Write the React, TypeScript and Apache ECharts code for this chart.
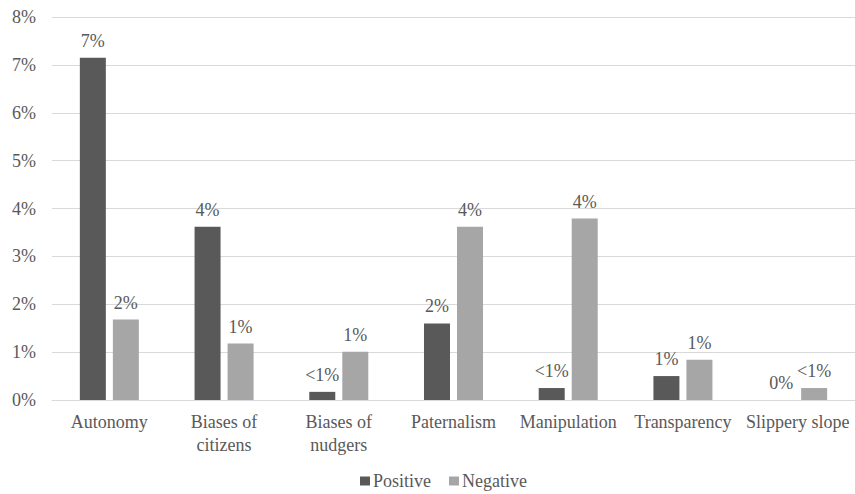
import React, { useEffect, useRef } from "react";
import * as echarts from "echarts";

const categories = [
  "Autonomy",
  "Biases of\ncitizens",
  "Biases of\nnudgers",
  "Paternalism",
  "Manipulation",
  "Transparency",
  "Slippery slope",
];
const positive = [7.15, 3.62, 0.17, 1.6, 0.25, 0.5, 0];
const negative = [1.68, 1.18, 1.01, 3.62, 3.79, 0.84, 0.25];
const yTicks = [0, 1, 2, 3, 4, 5, 6, 7, 8];

const FONT =
  "Liberation Serif, Tinos, DejaVu Serif, Noto Serif, Times New Roman, Times, serif";
const TEXT = "#595959";

// Whole-percent labels, with "<1%" for non-zero values that round to zero
function pctLabel(v: number): string {
  const r = Math.round(v);
  if (v > 0 && r === 0) return "<1%";
  return r + "%";
}

export default function App() {
  const ref = useRef<HTMLDivElement>(null);

  useEffect(() => {
    if (!ref.current) return;
    const chart = echarts.init(ref.current, undefined, { renderer: "svg" });
    const label = {
      show: true,
      position: "top" as const,
      distance: 8,
      color: TEXT,
      fontFamily: FONT,
      fontSize: 18,
      formatter: (p: any) => pctLabel(p.value),
    };
    chart.setOption({
      animation: false,
      textStyle: { fontFamily: FONT },
      grid: { left: 52, right: -6, top: 17, bottom: 94, containLabel: false },
      legend: {
        top: 467,
        left: 355,
        itemWidth: 10,
        itemHeight: 9,
        itemGap: 18,
        icon: "rect",
        textStyle: { color: TEXT, fontFamily: FONT, fontSize: 18, padding: [0, 0, 0, -2] },
        data: ["Positive", "Negative"],
      },
      xAxis: {
        type: "category",
        data: categories,
        axisLine: { lineStyle: { color: "#d9d9d9", width: 1 } },
        axisTick: { show: false },
        axisLabel: {
          color: TEXT,
          fontFamily: FONT,
          fontSize: 18,
          lineHeight: 23,
          margin: 10,
          interval: 0,
        },
      },
      yAxis: {
        type: "value",
        min: yTicks[0],
        max: yTicks[yTicks.length - 1],
        interval: 1,
        axisLine: { show: false },
        axisTick: { show: false },
        splitLine: { lineStyle: { color: "#d9d9d9", width: 1 } },
        axisLabel: {
          color: TEXT,
          fontFamily: FONT,
          fontSize: 18,
          margin: 16,
          formatter: (v: number) => v + "%",
        },
      },
      series: [
        {
          name: "Positive",
          type: "bar",
          data: positive,
          barWidth: 26,
          barGap: "27%",
          itemStyle: { color: "#595959" },
          label,
        },
        {
          name: "Negative",
          type: "bar",
          data: negative,
          barWidth: 26,
          itemStyle: { color: "#a6a6a6" },
          label,
        },
      ],
    });
    return () => chart.dispose();
  }, []);

  return (
    <div
      ref={ref}
      style={{ position: "absolute", left: 0, top: 0, width: 855, height: 494 }}
    />
  );
}
